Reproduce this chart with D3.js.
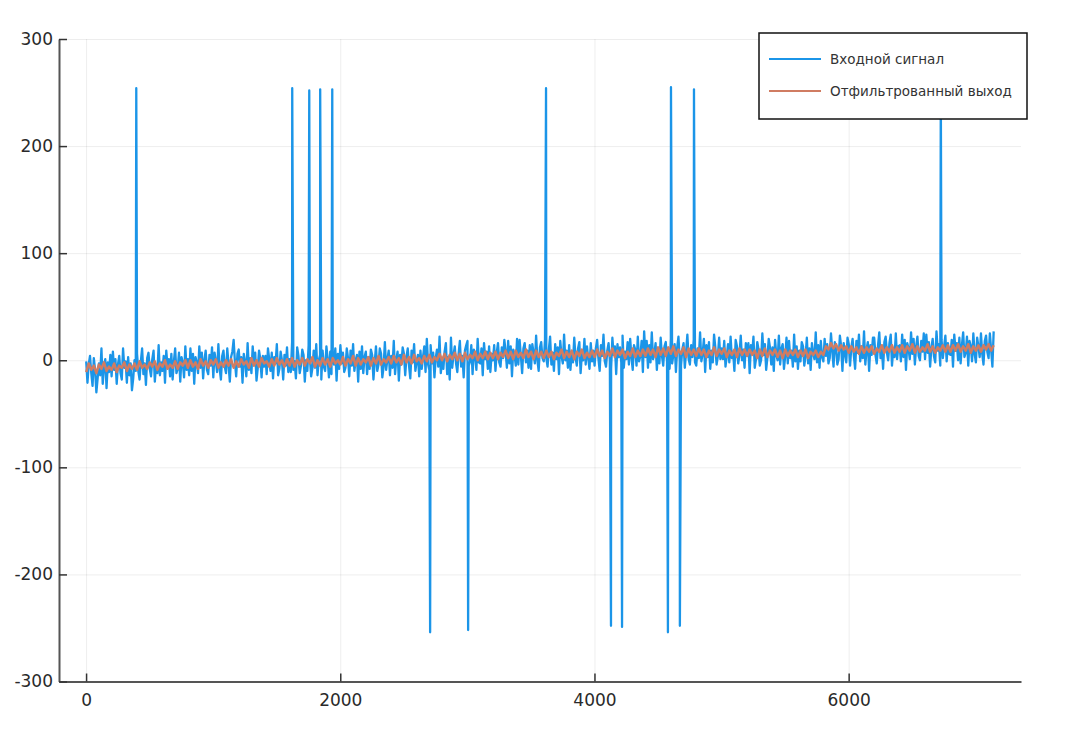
<!DOCTYPE html>
<html>
<head>
<meta charset="utf-8">
<script src="https://cdn.jsdelivr.net/npm/d3@7"></script>
<style>
  body { margin: 0; background: #fff; }
  svg { display: block; }
  .tick text { font-family: "DejaVu Sans", sans-serif; fill: #2a2a2a; }
</style>
</head>
<body>
<script>
// input signal, sampled every 10 steps starting at x = 1
const inputStart = 1;
const inputStep = 10;
const inputValues = [
  -1, -21, -4, 4, -12, -24, 2, -9, -30, -17, -3, -14, 11, -22, -6, 1, -26, -2, -11, 5,
  -15, 8, -9, 1, -22, -4, 4, -12, -18, 11, -7, -1, -21, 3, -14, -3, -28, -17, 0, -10,
  6, -10, -18, -1, 11, -13, -3, -23, 2, 7, -8, -15, 1, 9, -20, -4, -12, 14, -14, -2,
  -10, 4, -21, 9, -6, 1, -15, 6, -18, -1, 11, -12, -8, 7, -20, 3, -2, -16, 13, -9,
  1, -14, 11, -10, 6, -22, 3, -2, -12, 13, -7, 7, -17, 0, 9, -9, -13, 5, -5, 12,
  -16, 7, -1, -11, 15, -8, -18, 4, 9, -6, -12, 11, -4, -20, 3, 8, 19, -1, -15, 6,
  10, -6, 3, -21, 6, -1, -15, 16, -9, 2, -12, 13, -4, 7, -19, -7, 9, 1, -16, 4,
  -6, 4, -13, 11, 1, -10, 7, -17, 3, -3, 15, -14, -8, 8, 0, -18, 5, -5, 12, -11,
  1, -11, 17, -9, -1, -17, 12, 4, -12, -5, 10, 5, -20, 0, -10, 14, 2, -15, -7, 9,
  -7, 15, -14, 0, 5, -18, 9, -6, -10, 13, 1, -16, 8, -13, 3, -4, 11, -19, 6, -8,
  14, -3, 7, -11, -7, 11, 2, -15, 9, -5, 15, -10, 0, 5, -20, 8, -8, 13, -12, 3,
  8, -13, 3, -8, 10, 5, -18, -2, 13, -10, -4, 11, 6, -16, -6, 17, -9, 1, 9, -14,
  4, -7, 18, -13, 1, 8, -19, 5, -4, 12, 6, -14, 3, 11, -5, -17, 9, -2, 15, -10,
  -1, 5, -15, 9, -8, 3, 13, -11, 20, -4, -9, 14, -3, 7, -16, 2, 10, -6, 22, -12,
  -1, -8, 8, 16, -13, 3, -18, 21, -7, 5, 13, -3, -11, 6, 18, -6, 4, -16, 9, 14,
  18, -5, -1, 14, -13, 10, 5, -9, 20, -2, -3, 11, -14, 16, 1, 8, -8, 13, -11, 6,
  0, 14, -10, 7, 16, -2, -6, 12, 2, 19, 8, -7, 18, -3, 13, -15, 10, 5, -5, 20,
  -4, 19, 4, -12, 11, 16, -2, 9, -7, 14, -8, 15, 7, -3, 23, 0, -10, 12, 17, 2,
  -1, 19, 2, -6, 10, 22, -4, 7, -10, 15, 1, 12, -13, 18, 4, -3, 24, 0, 9, -7,
  14, -9, 8, -2, 21, 3, -5, 11, 17, -12, 6, 0, 20, -4, 13, 2, -8, 16, -1, 9,
  -5, 11, 19, 2, -10, 14, 4, 24, -1, -6, 9, 16, 0, -8, 21, 5, 13, -13, 15, 3,
  12, -2, 23, -7, 8, 1, 17, -4, 20, 3, -9, 14, 10, -5, 22, -1, 4, 18, -11, 27,
  3, 18, -7, 14, -2, 26, 1, 6, 16, -9, 11, -3, 21, 4, -5, 13, 17, -1, 9, -8,
  20, -3, 5, 15, -11, 12, 22, 0, -5, 10, 16, -7, 8, 24, 1, -4, 14, 3, 19, -2,
  -5, 11, 2, 26, -1, 6, 20, -11, 14, 3, 17, -8, 9, -2, 24, 12, -4, 4, 21, 1,
  11, 1, 18, -6, 4, 15, -2, 22, 2, 8, -10, 19, 13, -3, 5, 23, 0, 10, -7, 16,
  4, 16, -12, 14, 6, 22, -7, 1, 17, 10, -5, 0, 25, 5, 15, -9, 3, 20, 12, -4,
  12, -10, 19, 5, 0, 23, -4, 11, 15, -8, 4, 21, -3, 18, 2, 9, -6, 24, -1, 13,
  -8, 9, -1, 17, 13, -5, 4, 21, -3, 11, -9, 16, 6, 1, 26, -2, 14, -7, 18, 3,
  -1, 20, 4, 15, -3, 2, 25, 9, -6, 17, 11, -4, 1, 23, 13, -10, 16, 6, -2, 21,
  15, -5, 12, 20, 4, -8, 18, 7, 24, -1, 13, 2, 27, -4, 10, 17, -10, 14, 5, 21,
  21, 5, -3, 14, 26, 2, 12, -8, 17, 22, 7, 0, 16, 24, -5, 11, 3, 25, 1, 13,
  14, -1, 24, 3, 19, -9, 16, 11, 1, 26, 6, 20, -4, 13, 22, 4, 0, 18, 8, 25,
  1, 24, 7, 17, -6, 12, 20, 4, -2, 27, 9, 15, -5, 19, 2, 13, 23, -1, 16, 6,
  5, 19, -6, 24, 9, 16, 0, 21, -3, 14, 26, 3, 7, 22, -5, 18, 13, -1, 25, 6,
  -2, 21, 13, 3, 25, 6, -4, 18, 23, 8, 2, 25, 10, -6, 27
];

// impulse spikes in the input
const spikeX = [395, 1622, 1756, 1842, 1937, 2707, 3006, 3619, 4130, 4217, 4578, 4602, 4672, 4783, 6725];
const spikeValues = [254, 254, 252, 253, 253, -254, -252, 254, -248, -249, -254, 255, -248, 253, 254];

// filtered output, sampled every 20 steps starting at x = 1
const filteredStart = 1;
const filteredStep = 20;
const filteredValues = [
  -11, -3, -9, -5, -12, -4, -8, -2, -10, -6, -9, -3, -11, -5, -7, -2, -10, -4, -8, -3,
  -9, -1, -7, -4, -8, -2, -6, -1, -9, -3, -6, 0, -8, -4, -7, -1, -8, -2, -5, 0,
  -7, 0, -6, -2, -8, 1, -5, -1, -7, 0, -4, 1, -7, -2, -6, 0, -5, 1, -7, -1,
  -6, 1, -4, -1, -7, 2, -5, 0, -6, 2, -3, -1, -6, 1, -5, 2, -4, 0, -6, 1,
  -5, 2, -6, 0, -4, 2, -5, 1, -3, 3, -6, 0, -5, 2, -4, 1, -6, 2, -3, 0,
  -4, 3, -5, 1, -3, 4, -5, 2, -4, 1, -2, 3, -5, 2, -3, 4, -4, 1, -2, 3,
  -3, 4, -2, 2, -4, 5, -2, 3, -3, 5, -1, 2, -3, 4, -1, 5, -2, 3, 0, 6,
  0, 6, -1, 5, 1, 7, 0, 6, -1, 7, 1, 5, 2, 8, 0, 6, 2, 8, 1, 7,
  2, 8, 1, 7, 3, 9, 2, 8, 1, 9, 3, 7, 2, 10, 3, 8, 1, 9, 3, 8,
  2, 9, 3, 8, 1, 7, 4, 10, 2, 8, 3, 9, 1, 8, 4, 10, 2, 7, 3, 9,
  3, 10, 4, 9, 2, 8, 4, 11, 3, 9, 5, 10, 2, 8, 4, 11, 3, 9, 4, 10,
  4, 11, 5, 10, 3, 12, 5, 11, 4, 12, 6, 13, 4, 10, 6, 12, 3, 11, 5, 10,
  4, 11, 5, 10, 3, 9, 5, 12, 4, 10, 6, 11, 3, 9, 5, 10, 3, 11, 5, 10,
  4, 10, 5, 9, 2, 10, 4, 11, 3, 9, 5, 10, 3, 9, 2, 10, 4, 9, 5, 10,
  3, 9, 4, 10, 2, 8, 5, 9, 3, 8, 5, 13, 10, 16, 11, 15, 9, 14, 10, 13,
  7, 13, 8, 12, 6, 13, 7, 12, 8, 13, 6, 11, 8, 14, 7, 12, 8, 14, 7, 12,
  8, 14, 7, 13, 9, 15, 7, 13, 8, 12, 9, 15, 8, 13, 7, 12, 9, 14, 8, 14,
  8, 14, 9, 15, 8, 13, 9, 15, 7, 13, 9, 14, 8, 14, 10, 15, 9, 14
];

const xTicks = [0, 2000, 4000, 6000];
const yTicks = [-300, -200, -100, 0, 100, 200, 300];
const seriesNames = ['Входной сигнал', 'Отфильтрованный выход'];
const colors = ['#1b95e8', '#d07c62'];

const margin = { top: 39, right: 46, bottom: 66.5, left: 59 };
const W = 1067, H = 748;
const width = W - margin.left - margin.right;
const height = H - margin.top - margin.bottom;

const svg = d3.select('body').append('svg')
    .attr('width', W)
    .attr('height', H);

const g = svg.append('g')
    .attr('transform', `translate(${margin.left},${margin.top})`);

const x = d3.scaleLinear().domain([-213, 7356]).range([0, width]);
const y = d3.scaleLinear().domain([-300, 300]).range([height, 0]);

// plain hyphen for negatives, like the original
const fmt = (d) => String(d);

// grid
g.append('g')
    .attr('transform', `translate(0,${height})`)
    .call(d3.axisBottom(x).tickValues(xTicks).tickSize(-height).tickFormat(''))
    .call((s) => s.select('.domain').remove())
    .call((s) => s.selectAll('line').attr('stroke', '#000').attr('stroke-opacity', 0.07));
g.append('g')
    .call(d3.axisLeft(y).tickValues(yTicks).tickSize(-width).tickFormat(''))
    .call((s) => s.select('.domain').remove())
    .call((s) => s.selectAll('line').attr('stroke', '#000').attr('stroke-opacity', 0.07));

// build series
const input = inputValues.map((v, i) => ({ x: inputStart + i * inputStep, y: v }));
spikeX.forEach((sx, i) => input.push({ x: sx, y: spikeValues[i] }));
input.sort((a, b) => a.x - b.x);
const filtered = filteredValues.map((v, i) => ({ x: filteredStart + i * filteredStep, y: v }));

const line = d3.line().x((d) => x(d.x)).y((d) => y(d.y));

g.append('path')
    .datum(input)
    .attr('fill', 'none')
    .attr('stroke', colors[0])
    .attr('stroke-width', 2.3)
    .attr('stroke-linejoin', 'round')
    .attr('d', line);

g.append('path')
    .datum(filtered)
    .attr('fill', 'none')
    .attr('stroke', colors[1])
    .attr('stroke-width', 2.5)
    .attr('stroke-linejoin', 'round')
    .attr('d', line);

// axes
const xAxis = g.append('g')
    .attr('transform', `translate(0,${height})`)
    .call(d3.axisBottom(x).tickValues(xTicks).tickSize(-8).tickSizeOuter(0).tickPadding(12).tickFormat(fmt));
const yAxis = g.append('g')
    .call(d3.axisLeft(y).tickValues(yTicks).tickSize(-8).tickSizeOuter(0).tickPadding(6).tickFormat(fmt));

[xAxis, yAxis].forEach((a) => {
    a.select('.domain').attr('stroke', '#555').attr('stroke-width', 2);
    a.selectAll('.tick line').attr('stroke', '#333').attr('stroke-width', 1.5);
    a.selectAll('.tick text').attr('font-size', 17);
});

// legend
const legend = svg.append('g').attr('transform', 'translate(759,33)');
legend.append('rect')
    .attr('width', 268)
    .attr('height', 86)
    .attr('fill', '#fff')
    .attr('stroke', '#111')
    .attr('stroke-width', 1.5);

seriesNames.forEach((name, i) => {
    const row = legend.append('g').attr('transform', `translate(0,${26 + i * 32})`);
    row.append('line')
        .attr('x1', 10).attr('x2', 62)
        .attr('stroke', colors[i])
        .attr('stroke-width', 1.8);
    row.append('text')
        .attr('x', 71)
        .attr('dy', '0.35em')
        .attr('font-family', '"DejaVu Sans", sans-serif')
        .attr('font-size', 13.5)
        .attr('fill', '#333')
        .text(name);
});
</script>
</body>
</html>
